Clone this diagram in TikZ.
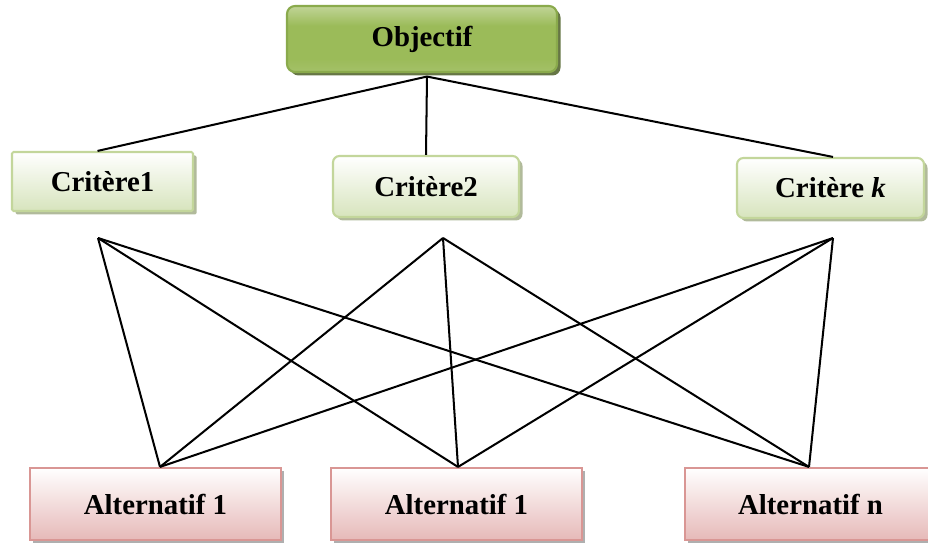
\documentclass[tikz,border=0pt]{standalone}
\usepackage{fontspec}
\setmainfont{Liberation Serif}
\usetikzlibrary{shadows,calc}

\definecolor{objgreen}{HTML}{9BBB59}
\definecolor{objlight}{HTML}{C3D69B}
\definecolor{objline}{HTML}{8AAA4C}
\definecolor{critfill}{HTML}{D7E4BD}
\definecolor{critline}{HTML}{C3D69B}
\definecolor{altfill}{HTML}{E6B9B8}
\definecolor{altline}{HTML}{D99694}

\pgfdeclareverticalshading{objshade}{100bp}{color(0bp)=(objlight!80!objgreen); color(35bp)=(objgreen); color(60bp)=(objgreen); color(76bp)=(objlight); color(100bp)=(objlight)}

\begin{document}
\begin{tikzpicture}[
    every node/.style={font=\fontsize{16.4}{20}\selectfont\bfseries, inner sep=0pt},
    objbox/.style={draw=objline, line width=1.2pt, rounded corners=0.16cm,
        shading=objshade,
        drop shadow={shadow xshift=0.07cm, shadow yshift=-0.07cm, fill=objgreen!55!black, opacity=0.9}},
    critbox/.style={draw=critline, line width=1.2pt,
        top color=white, bottom color=critfill,
        drop shadow={shadow xshift=0.07cm, shadow yshift=-0.07cm, fill=critline!60!gray, opacity=0.9}},
    altbox/.style={draw=altline, line width=1.2pt,
        top color=white, bottom color=altfill,
        drop shadow={shadow xshift=0.06cm, shadow yshift=-0.06cm, fill=gray!70, opacity=0.9}},
    link/.style={line width=1.15pt}
    ]
        \useasboundingbox (0,0) rectangle (18.56,10.88);

        \node[objbox, minimum width=5.4cm, minimum height=1.32cm] (obj) at (8.44,10.1) {Objectif};

        \node[critbox, minimum width=3.62cm, minimum height=1.18cm, rounded corners=0.03cm] (c1) at (2.05,7.25) {Critère1};
        \node[critbox, minimum width=3.72cm, minimum height=1.22cm, rounded corners=0.13cm] (c2) at (8.52,7.15) {Critère2};
        \node[critbox, minimum width=3.74cm, minimum height=1.2cm, rounded corners=0.13cm] (ck) at (16.61,7.12) {Critère \textit{k}};

        \node[altbox, minimum width=5.02cm, minimum height=1.44cm] (a1) at (3.11,0.8) {Alternatif 1};
        \node[altbox, minimum width=5.02cm, minimum height=1.44cm] (a2) at (9.13,0.8) {Alternatif 1};
        \node[altbox, minimum width=5.02cm, minimum height=1.44cm] (an) at (16.21,0.8) {Alternatif n};

        % free ends under the criteria
        \coordinate (c1b) at (1.96,6.12);
        \coordinate (c2b) at (8.86,6.12);
        \coordinate (ckb) at (16.66,6.12);
        \coordinate (a1t) at ([xshift=0.09cm]a1.north);
        \coordinate (a2t) at ([xshift=0.03cm]a2.north);
        \coordinate (ant) at ([xshift=-0.03cm]an.north);

        \coordinate (objb) at ([xshift=0.1cm,yshift=-0.07cm]obj.south);
        \draw[link] (objb) -- ([xshift=-0.1cm]c1.north);
        \draw[link] (objb) -- (c2.north);
        \draw[link] (objb) -- ([xshift=0.05cm]ck.north);

        \draw[link] (c1b) -- (a1t);
        \draw[link] (c1b) -- (a2t);
        \draw[link] (c1b) -- (ant);
        \draw[link] (c2b) -- (a1t);
        \draw[link] (c2b) -- (a2t);
        \draw[link] (c2b) -- (ant);
        \draw[link] (ckb) -- (a1t);
        \draw[link] (ckb) -- (a2t);
        \draw[link] (ckb) -- (ant);
    \end{tikzpicture}
\end{document}
